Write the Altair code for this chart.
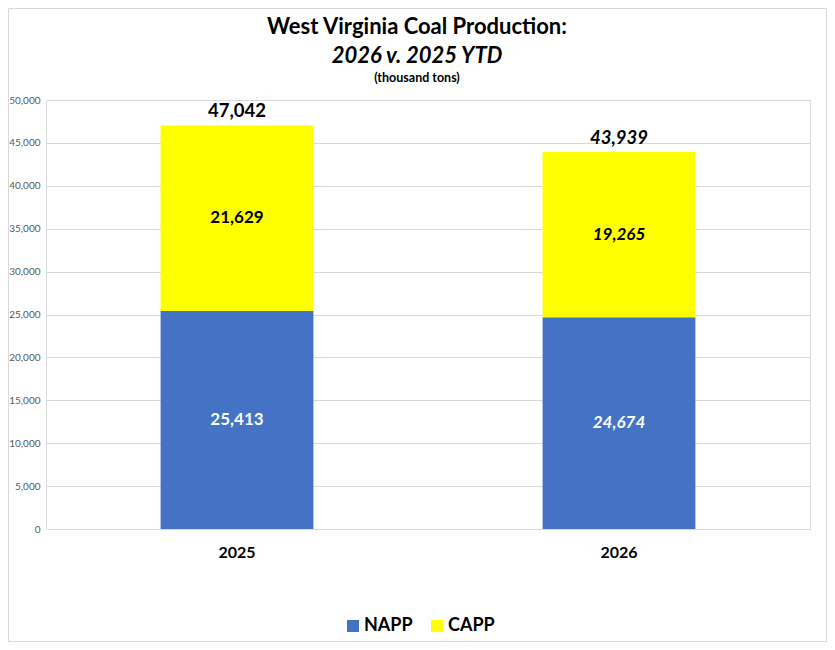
import altair as alt
import pandas as pd

years = ["2025", "2026"]
series = ["NAPP", "CAPP"]
napp = [25413, 24674]
capp = [21629, 19265]
colors = ["#4472C4", "#FFFF00"]
title_lines = ["West Virginia Coal Production:", "2026 v. 2025 YTD", "(thousand tons)"]
y_ticks = list(range(0, 50001, 5000))

rows = []
for i, yr in enumerate(years):
    rows.append({"year": yr, "series": "NAPP", "order": 0, "value": napp[i]})
    rows.append({"year": yr, "series": "CAPP", "order": 1, "value": capp[i]})
df = pd.DataFrame(rows)

FONT = "Lato"
W, H = 764, 429
PAD = {"left": 38, "top": 92, "right": 17, "bottom": 113}

x_axis = alt.Axis(title=None, labelAngle=0, labelFont=FONT, labelFontSize=16,
                  labelFontWeight="bold", labelColor="#000000", labelPadding=15,
                  ticks=False, domain=False)
x_scale = alt.Scale(paddingInner=0.6, paddingOuter=0.3)
y_axis = alt.Axis(title=None, values=y_ticks, format=",d", labelFont=FONT,
                  labelFontSize=10, labelColor="#595959", labelPadding=6,
                  ticks=False, tickSize=0, domain=False, gridColor="#d9d9d9")
y_scale = alt.Scale(domain=[0, 50000], nice=False)

def X():
    return alt.X("year:N", sort=years, scale=x_scale, axis=x_axis)

def Y(field):
    return alt.Y(field, scale=y_scale, axis=y_axis)

stacked = alt.Chart(df).transform_stack(
    stack="value", groupby=["year"], as_=["y0", "y1"],
    sort=[alt.SortField("order", "ascending")],
)

bars = stacked.mark_bar(strokeWidth=0).encode(
    x=X(),
    y=Y("y0:Q"),
    y2="y1:Q",
    color=alt.Color("series:N", scale=alt.Scale(domain=series, range=colors),
                    legend=alt.Legend(orient="none", legendX=298, legendY=517,
                                      direction="horizontal", title=None,
                                      symbolType="square", symbolSize=144,
                                      symbolStrokeWidth=0, symbolOpacity=1,
                                      labelFont=FONT, labelFontSize=18,
                                      labelFontWeight="bold", labelColor="#000000",
                                      columnPadding=15, labelOffset=2)),
)

def seg_labels(yr, style):
    return stacked.transform_calculate(mid="(datum.y0 + datum.y1) / 2").transform_filter(
        alt.datum.year == yr
    ).mark_text(font=FONT, fontSize=17, fontWeight="bold", fontStyle=style,
                baseline="middle").encode(
        x=X(),
        y=Y("mid:Q"),
        text=alt.Text("value:Q", format=","),
        color=alt.condition(alt.datum.series == "NAPP", alt.value("#ffffff"), alt.value("#000000")),
    )

def total_labels(yr, style):
    return alt.Chart(df).transform_aggregate(
        total="sum(value)", groupby=["year"]
    ).transform_filter(alt.datum.year == yr).mark_text(
        font=FONT, fontSize=18.5, fontWeight="bold", fontStyle=style,
        baseline="middle", dy=-14, color="#000000"
    ).encode(
        x=X(),
        y=Y("total:Q"),
        text=alt.Text("total:Q", format=","),
    )

def title_text(i, size, style, ypos, weight="bold"):
    return alt.Chart(pd.DataFrame({"t": [title_lines[i]]})).mark_text(
        font=FONT, fontSize=size, fontWeight=weight, fontStyle=style,
        baseline="middle", align="center", color="#000000"
    ).encode(text="t:N", x=alt.value(371), y=alt.value(ypos))

border = alt.Chart(pd.DataFrame({"a": [0]})).mark_rect(
    fill="transparent", stroke="#d9d9d9", strokeWidth=1
).encode(
    x=alt.value(-PAD["left"] + 0.5), x2=alt.value(W + PAD["right"] - 0.5),
    y=alt.value(-PAD["top"] + 0.5), y2=alt.value(H + PAD["bottom"] - 0.5),
)

chart = alt.layer(
    border,
    bars,
    seg_labels("2025", "normal"),
    seg_labels("2026", "italic"),
    total_labels("2025", "normal"),
    total_labels("2026", "italic"),
    title_text(0, 22, "normal", -73),
    title_text(1, 22, "italic", -44),
    title_text(2, 12.5, "normal", -22),
).properties(
    width=W, height=H,
    autosize=alt.AutoSizeParams(type="none"),
    padding=PAD,
).configure_view(stroke="transparent", strokeWidth=0).configure(background="#ffffff")

chart.save("out.html", embed_options={"renderer": "svg", "actions": False})
